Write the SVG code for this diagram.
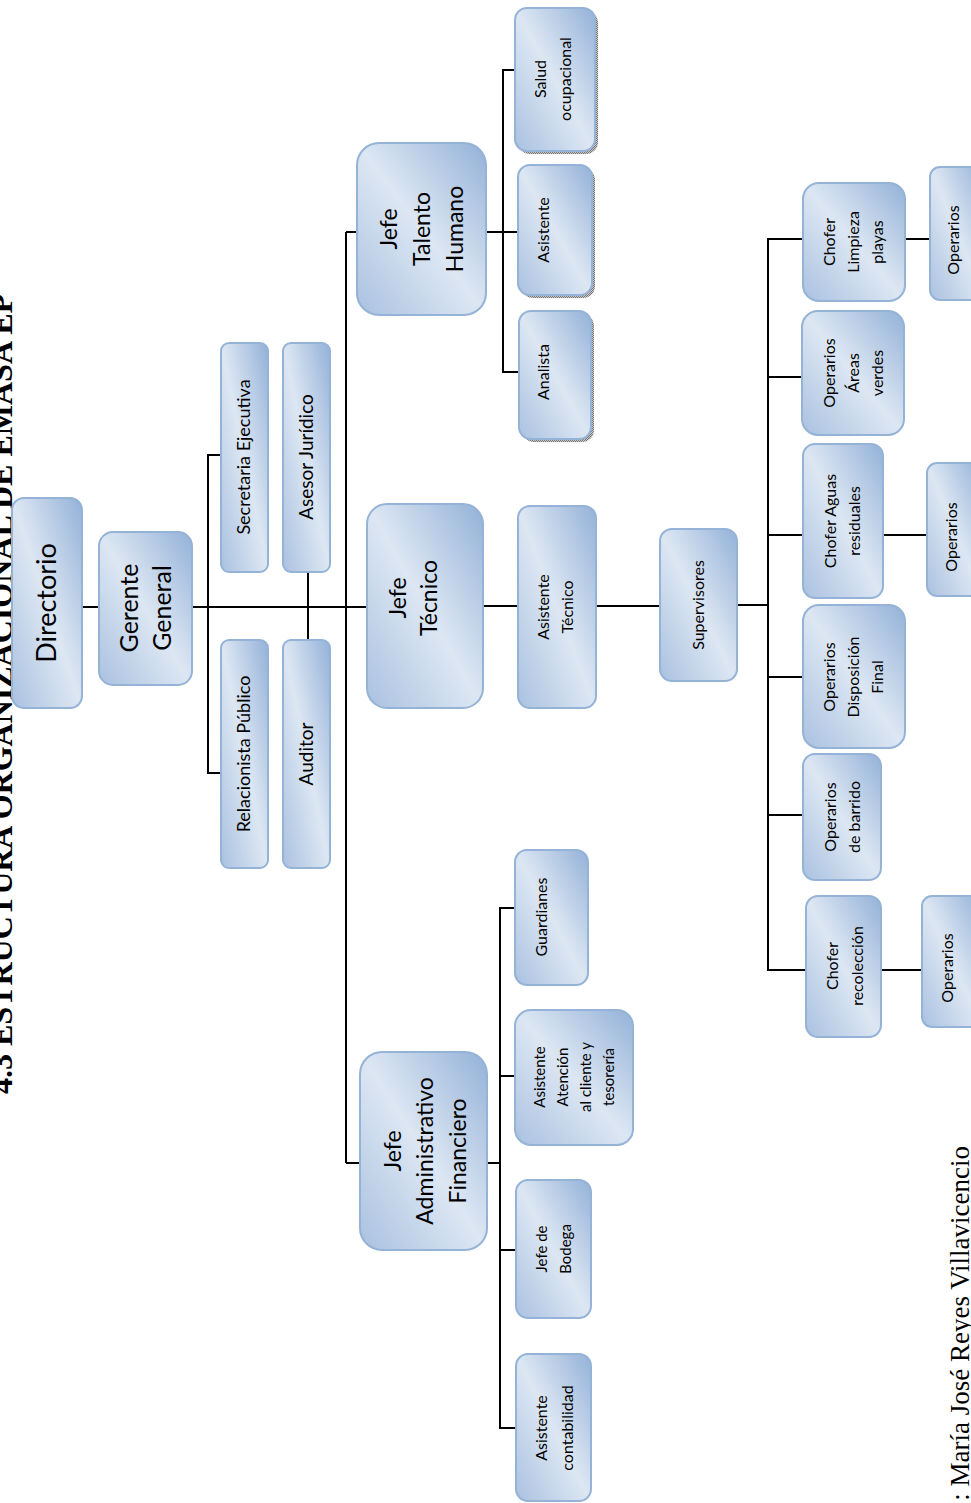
<svg xmlns="http://www.w3.org/2000/svg" width="971" height="1503" viewBox="0 0 971 1503">
<defs>
<linearGradient id="g" x1="0" y1="1" x2="1" y2="0">
<stop offset="0" stop-color="#a9c1e0"/>
<stop offset="0.5" stop-color="#dde7f3"/>
<stop offset="1" stop-color="#93b1d8"/>
</linearGradient>
<pattern id="dots" width="2" height="2" patternUnits="userSpaceOnUse">
<rect width="2" height="2" fill="#c8c8c8"/>
<rect width="1" height="1" fill="#777"/>
<rect x="1" y="1" width="1" height="1" fill="#777"/>
</pattern>
<style>
.b{fill:url(#g);stroke:#95b3d7;stroke-width:2}
.sh{fill:url(#dots)}
.t{font-family:"Lato","Open Sans",sans-serif;fill:#000;text-anchor:middle}
.c{stroke:#000;stroke-width:2;fill:none}
.ttl{font-family:"Liberation Serif","Times New Roman",serif;font-weight:bold;fill:#000}
.ft{font-family:"Liberation Serif","Times New Roman",serif;fill:#000}
</style>
</defs>
<rect width="971" height="1503" fill="#fff"/>

<text class="ttl" font-size="32" transform="translate(12,1094) rotate(-90)">4.3 ESTRUCTURA ORGANIZACIONAL DE EMASA EP</text>
<text class="ft" font-size="27" text-anchor="end" transform="translate(969,1146) rotate(-90)">: María José Reyes Villavicencio</text>

<g id="connectors">
<path class="c" d="M82,607H99"/>
<path class="c" d="M192,607H367"/>
<path class="c" d="M346,232V1163"/>
<path class="c" d="M346,232H357"/>
<path class="c" d="M346,1163H360"/>
<path class="c" d="M221,455H208V773H221"/>
<path class="c" d="M308,572V640"/>
<path class="c" d="M486,232H518"/>
<path class="c" d="M515,70H503V372H519"/>
<path class="c" d="M483,606H518"/>
<path class="c" d="M596,606H660"/>
<path class="c" d="M737,605H768"/>
<path class="c" d="M803,239H768V970H806"/>
<path class="c" d="M768,377H802"/>
<path class="c" d="M768,535H803"/>
<path class="c" d="M768,677H803"/>
<path class="c" d="M768,815H803"/>
<path class="c" d="M905,239H930"/>
<path class="c" d="M883,535H927"/>
<path class="c" d="M881,970H922"/>
<path class="c" d="M487,1163H500"/>
<path class="c" d="M515,908H500V1428H516"/>
<path class="c" d="M500,1076H515"/>
<path class="c" d="M500,1250H516"/>
</g>

<g id="directorio">
<rect class="b" x="12" y="498" width="70" height="210" rx="12"/>
<text class="t" font-size="27" transform="translate(47,603) rotate(-90)" y="9">Directorio</text>
</g>
<g id="gerente">
<rect class="b" x="99" y="532" width="93" height="153" rx="14"/>
<text class="t" font-size="25" transform="translate(145,608) rotate(-90)"><tspan x="0" y="-7">Gerente</tspan><tspan x="0" y="26">General</tspan></text>
</g>
<g id="secretaria">
<rect class="b" x="221" y="343" width="47" height="229" rx="8"/>
<text class="t" font-size="18" transform="translate(244,457) rotate(-90)" y="6">Secretaria Ejecutiva</text>
</g>
<g id="asesor">
<rect class="b" x="283" y="343" width="47" height="229" rx="8"/>
<text class="t" font-size="19" transform="translate(306,457) rotate(-90)" y="7">Asesor Jurídico</text>
</g>
<g id="relacionista">
<rect class="b" x="221" y="640" width="47" height="228" rx="8"/>
<text class="t" font-size="18" transform="translate(244,754) rotate(-90)" y="6">Relacionista Público</text>
</g>
<g id="auditor">
<rect class="b" x="283" y="640" width="47" height="228" rx="8"/>
<text class="t" font-size="19" transform="translate(306,754) rotate(-90)" y="7">Auditor</text>
</g>
<g id="jefe-th">
<rect class="b" x="357" y="143" width="129" height="172" rx="22"/>
<text class="t" font-size="23" transform="translate(422,229) rotate(-90)"><tspan x="0" y="-25">Jefe</tspan><tspan x="0" y="8">Talento</tspan><tspan x="0" y="41">Humano</tspan></text>
</g>
<g id="jefe-tecnico">
<rect class="b" x="367" y="504" width="116" height="204" rx="20"/>
<text class="t" font-size="23" transform="translate(413,598) rotate(-90)"><tspan x="0" y="-7">Jefe</tspan><tspan x="0" y="24">Técnico</tspan></text>
</g>
<g id="jefe-af">
<rect class="b" x="360" y="1052" width="127" height="198" rx="22"/>
<text class="t" font-size="23" transform="translate(425,1151) rotate(-90)"><tspan x="0" y="-24">Jefe</tspan><tspan x="0" y="8">Administrativo</tspan><tspan x="0" y="41">Financiero</tspan></text>
</g>
<g id="salud">
<rect class="sh" x="518" y="11" width="80" height="143" rx="12"/>
<rect class="b" x="515" y="8" width="80" height="143" rx="12"/>
<text class="t" font-size="16" transform="translate(554,79) rotate(-90)"><tspan x="0" y="-8">Salud</tspan><tspan x="0" y="17">ocupacional</tspan></text>
</g>
<g id="asistente-th">
<rect class="sh" x="521" y="168" width="74" height="130" rx="12"/>
<rect class="b" x="518" y="165" width="74" height="130" rx="12"/>
<text class="t" font-size="16" transform="translate(543,230) rotate(-90)" y="6">Asistente</text>
</g>
<g id="analista">
<rect class="sh" x="522" y="314" width="72" height="128" rx="12"/>
<rect class="b" x="519" y="311" width="72" height="128" rx="12"/>
<text class="t" font-size="16" transform="translate(543,372) rotate(-90)" y="6">Analista</text>
</g>
<g id="asistente-tecnico">
<rect class="b" x="518" y="506" width="78" height="202" rx="12"/>
<text class="t" font-size="16" transform="translate(555,607) rotate(-90)"><tspan x="0" y="-6">Asistente</tspan><tspan x="0" y="18">Técnico</tspan></text>
</g>
<g id="supervisores">
<rect class="b" x="660" y="529" width="77" height="152" rx="12"/>
<text class="t" font-size="16" transform="translate(698,605) rotate(-90)" y="6">Supervisores</text>
</g>
<g id="chofer-playas">
<rect class="b" x="803" y="183" width="102" height="118" rx="16"/>
<text class="t" font-size="16" transform="translate(853,242) rotate(-90)"><tspan x="0" y="-18">Chofer</tspan><tspan x="0" y="6">Limpieza</tspan><tspan x="0" y="30">playas</tspan></text>
</g>
<g id="operarios-1">
<rect class="b" x="930" y="167" width="55" height="133" rx="10"/>
<text class="t" font-size="16" transform="translate(953,240) rotate(-90)" y="6">Operarios</text>
</g>
<g id="areas-verdes">
<rect class="b" x="802" y="311" width="102" height="124" rx="16"/>
<text class="t" font-size="16" transform="translate(853,373) rotate(-90)"><tspan x="0" y="-18">Operarios</tspan><tspan x="0" y="6">Áreas</tspan><tspan x="0" y="30">verdes</tspan></text>
</g>
<g id="chofer-aguas">
<rect class="b" x="803" y="444" width="80" height="154" rx="12"/>
<text class="t" font-size="16" transform="translate(842,521) rotate(-90)"><tspan x="0" y="-6">Chofer Aguas</tspan><tspan x="0" y="18">residuales</tspan></text>
</g>
<g id="operarios-2">
<rect class="b" x="927" y="463" width="55" height="133" rx="10"/>
<text class="t" font-size="16" transform="translate(951,537) rotate(-90)" y="6">Operarios</text>
</g>
<g id="disposicion">
<rect class="b" x="803" y="605" width="102" height="143" rx="16"/>
<text class="t" font-size="16" transform="translate(853,677) rotate(-90)"><tspan x="0" y="-18">Operarios</tspan><tspan x="0" y="6">Disposición</tspan><tspan x="0" y="30">Final</tspan></text>
</g>
<g id="barrido">
<rect class="b" x="803" y="754" width="78" height="126" rx="12"/>
<text class="t" font-size="16" transform="translate(842,817) rotate(-90)"><tspan x="0" y="-6">Operarios</tspan><tspan x="0" y="18">de barrido</tspan></text>
</g>
<g id="chofer-recoleccion">
<rect class="b" x="806" y="896" width="75" height="141" rx="12"/>
<text class="t" font-size="16" transform="translate(844,966) rotate(-90)"><tspan x="0" y="-6">Chofer</tspan><tspan x="0" y="19">recolección</tspan></text>
</g>
<g id="operarios-3">
<rect class="b" x="922" y="896" width="60" height="131" rx="10"/>
<text class="t" font-size="16" transform="translate(947,968) rotate(-90)" y="6">Operarios</text>
</g>
<g id="guardianes">
<rect class="b" x="515" y="850" width="73" height="135" rx="12"/>
<text class="t" font-size="16" transform="translate(541,917) rotate(-90)" y="6">Guardianes</text>
</g>
<g id="asistente-atencion">
<rect class="b" x="515" y="1010" width="118" height="135" rx="16"/>
<text class="t" font-size="15" transform="translate(576,1077) rotate(-90)"><tspan x="0" y="-31">Asistente</tspan><tspan x="0" y="-8">Atención</tspan><tspan x="0" y="15">al cliente y</tspan><tspan x="0" y="38">tesorería</tspan></text>
</g>
<g id="jefe-bodega">
<rect class="b" x="516" y="1180" width="75" height="138" rx="12"/>
<text class="t" font-size="15" transform="translate(553,1249) rotate(-90)"><tspan x="0" y="-6">Jefe de</tspan><tspan x="0" y="18">Bodega</tspan></text>
</g>
<g id="asistente-contabilidad">
<rect class="b" x="516" y="1354" width="75" height="147" rx="12"/>
<text class="t" font-size="16" transform="translate(554,1428) rotate(-90)"><tspan x="0" y="-7">Asistente</tspan><tspan x="0" y="19">contabilidad</tspan></text>
</g>
</svg>
